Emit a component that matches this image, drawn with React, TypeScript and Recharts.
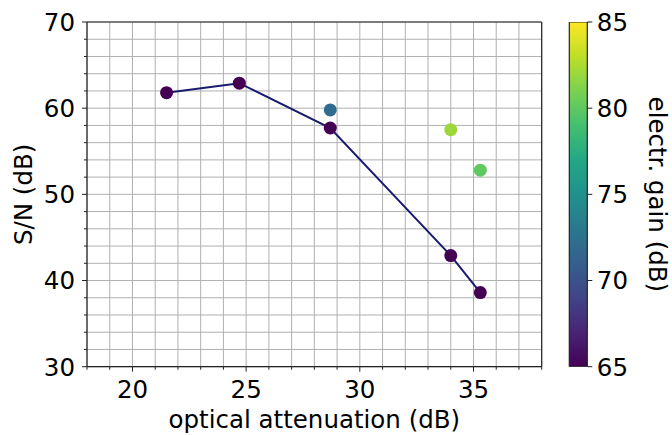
import React from 'react';
import {
  ScatterChart, Scatter, XAxis, YAxis, CartesianGrid, ReferenceLine, Label,
  BarChart, Bar,
} from 'recharts';

// ---- data ----
const lineAttenuation = [21.5, 24.7, 28.7, 34.0, 35.3];
const lineSnr = [61.8, 62.9, 57.7, 42.9, 38.6];
const lineGain = [65, 65, 65, 65, 65];

const extraAttenuation = [28.7, 34.0, 35.3];
const extraSnr = [59.8, 57.5, 52.8];
const extraGain = [72, 82, 80];

const xTicks = [18, 19, 20, 21, 22, 23, 24, 25, 26, 27, 28, 29, 30, 31, 32, 33, 34, 35, 36, 37, 38];
const yTicks = [30, 32, 34, 36, 38, 40, 42, 44, 46, 48, 50, 52, 54, 56, 58, 60, 62, 64, 66, 68, 70];
const gainTicks = [65, 70, 75, 80, 85];
const gainRange = [65, 85];

// ---- viridis colormap ----
const VIRIDIS = ['#440154', '#482475', '#414487', '#355f8d', '#2a788e', '#21918c', '#22a884', '#44bf70', '#7ad151', '#bddf26', '#fde725'];
const hex = (h: string) => [1, 3, 5].map((i) => parseInt(h.slice(i, i + 2), 16));
const viridis = (t: number) => {
  const c = Math.max(0, Math.min(1, t)) * (VIRIDIS.length - 1);
  const i = Math.min(Math.floor(c), VIRIDIS.length - 2);
  const f = c - i;
  const a = hex(VIRIDIS[i]);
  const b = hex(VIRIDIS[i + 1]);
  const m = a.map((v, k) => Math.round(v + (b[k] - v) * f));
  return `rgb(${m[0]},${m[1]},${m[2]})`;
};
const gainColor = (g: number) => viridis((g - gainRange[0]) / (gainRange[1] - gainRange[0]));

const lineData = lineAttenuation.map((x, i) => ({ x, y: lineSnr[i], c: gainColor(lineGain[i]) }));
const extraData = extraAttenuation.map((x, i) => ({ x, y: extraSnr[i], c: gainColor(extraGain[i]) }));
const cbData = [{ k: 'cb', range: gainRange }];

const FONT = 'DejaVu Sans';
const FS = 24.5;
const AX = '#222';

const Dot = (p: any) => <circle cx={p.cx} cy={p.cy} r={6.5} fill={p.payload.c} />;

const XTick = (p: any) => {
  const v = p.payload.value;
  const major = v % 5 === 0;
  return (
    <g>
      <line x1={p.x} x2={p.x} y1={p.y} y2={p.y + (major ? 5 : 3)} stroke={AX} strokeWidth={1} />
      {major && (
        <text x={p.x} y={p.y + 30.8} textAnchor="middle" fontSize={FS} fontFamily={FONT} fill="#000">{v}</text>
      )}
    </g>
  );
};

const YTick = (p: any) => {
  const v = p.payload.value;
  const major = v % 10 === 0;
  return (
    <g>
      <line x1={p.x - (major ? 5 : 3)} x2={p.x} y1={p.y} y2={p.y} stroke={AX} strokeWidth={1} />
      {major && (
        <text x={p.x - 12} y={p.y + 8.8} textAnchor="end" fontSize={FS} fontFamily={FONT} fill="#000">{v}</text>
      )}
    </g>
  );
};

const CTick = (p: any) => {
  const v = p.payload.value;
  return (
    <g>
      <line x1={p.x} x2={p.x + 5} y1={p.y} y2={p.y} stroke={AX} strokeWidth={1} />
      <text x={p.x + 9.5} y={p.y + 8.8} textAnchor="start" fontSize={FS} fontFamily={FONT} fill="#000">{v}</text>
    </g>
  );
};

export default function App() {
  return (
    <div style={{ position: 'absolute', left: 0, top: 0, width: 672, height: 435, background: '#fff', fontFamily: FONT }}>
      <div style={{ position: 'absolute', left: 0, top: 0 }}>
        <ScatterChart width={672} height={435} margin={{ top: 22, right: 130.3, bottom: 0, left: 0 }}>
          <CartesianGrid stroke="#b0b0b0" strokeWidth={1} />
          <XAxis
            type="number"
            dataKey="x"
            domain={[18, 38]}
            ticks={xTicks}
            interval={0}
            height={68.3}
            tickSize={0}
            tickMargin={0}
            tickLine={false}
            axisLine={{ stroke: AX, strokeWidth: 1.2 }}
            tick={<XTick />}
            allowDataOverflow
          >
            <Label value="optical attenuation (dB)" position="insideBottom" offset={7} fontSize={FS} fontFamily={FONT} fill="#000" />
          </XAxis>
          <YAxis
            type="number"
            dataKey="y"
            domain={[30, 70]}
            ticks={yTicks}
            interval={0}
            width={87}
            tickSize={0}
            tickMargin={0}
            tickLine={false}
            axisLine={{ stroke: AX, strokeWidth: 1.2 }}
            tick={<YTick />}
            allowDataOverflow
          >
            <Label value="S/N (dB)" position="insideLeft" offset={23.5} angle={-90} fontSize={FS} fontFamily={FONT} fill="#000" style={{ textAnchor: 'middle' }} />
          </YAxis>
          <ReferenceLine y={70} stroke={AX} strokeWidth={1.2} />
          <ReferenceLine x={38} stroke={AX} strokeWidth={1.2} />
          <Scatter
            data={lineData}
            line={{ stroke: '#191970', strokeWidth: 2 }}
            shape={<Dot />}
            isAnimationActive={false}
          />
          <Scatter data={extraData} shape={<Dot />} isAnimationActive={false} />
        </ScatterChart>
      </div>
      <div style={{ position: 'absolute', left: 0, top: 0 }}>
        <BarChart
          width={672}
          height={435}
          data={cbData}
          margin={{ top: 22, right: 0, bottom: 68.3, left: 569.3 }}
          barCategoryGap={0}
          barGap={0}
        >
          <defs>
            <linearGradient id="viridisGrad" x1="0" y1="1" x2="0" y2="0">
              {VIRIDIS.map((c, i) => (
                <stop key={i} offset={i / (VIRIDIS.length - 1)} stopColor={c} />
              ))}
            </linearGradient>
          </defs>
          <XAxis dataKey="k" type="category" hide />
          <YAxis
            orientation="right"
            type="number"
            domain={gainRange}
            ticks={gainTicks}
            interval={0}
            width={84.7}
            tickSize={0}
            tickMargin={0}
            tickLine={false}
            axisLine={false}
            tick={<CTick />}
            allowDataOverflow
          >
            <Label value="electr. gain (dB)" position="insideRight" offset={14.5} angle={90} fontSize={FS} fontFamily={FONT} fill="#000" style={{ textAnchor: 'middle' }} />
          </YAxis>
          <Bar dataKey="range" fill="url(#viridisGrad)" stroke={AX} strokeWidth={1.2} isAnimationActive={false} />
        </BarChart>
      </div>
    </div>
  );
}
